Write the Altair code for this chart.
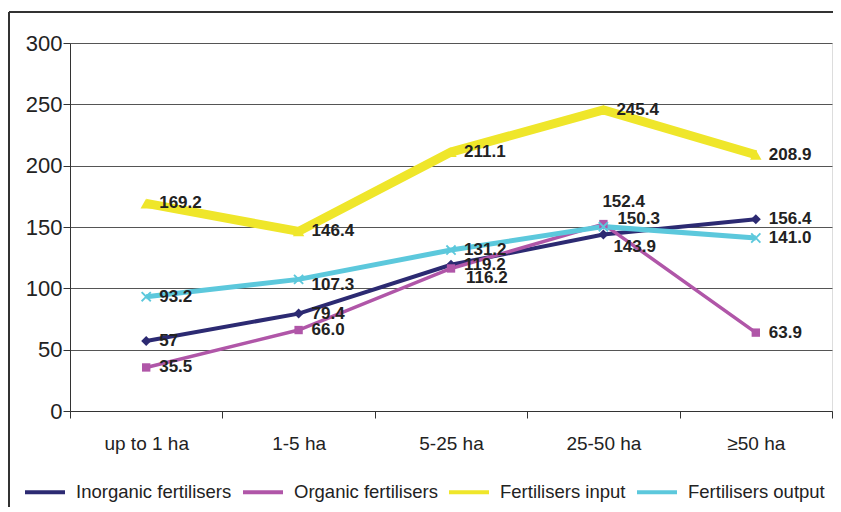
import altair as alt
import pandas as pd

# ---- data ----
categories = ["up to 1 ha", "1-5 ha", "5-25 ha", "25-50 ha", "≥50 ha"]
series_names = ["Inorganic fertilisers", "Organic fertilisers",
                "Fertilisers input", "Fertilisers output"]
inorganic = [57, 79.4, 119.2, 143.9, 156.4]
organic = [35.5, 66.0, 116.2, 152.4, 63.9]
fert_input = [169.2, 146.4, 211.1, 245.4, 208.9]
fert_output = [93.2, 107.3, 131.2, 150.3, 141.0]
y_ticks = [0, 50, 100, 150, 200, 250, 300]

# ---- style ----
colors = ["#2c2a72", "#b056a8", "#efe62a", "#5cc8dc"]
line_widths = [4, 3.5, 9, 5]
X_PATH = ("M-1,-0.75L-0.75,-1L0,-0.25L0.75,-1L1,-0.75L0.25,0L1,0.75L0.75,1"
          "L0,0.25L-0.75,1L-1,0.75L-0.25,0Z")
shapes = ["diamond", "square", "triangle-up", X_PATH]
marker_sizes = [100, 70, 130, 110]
# label placement groups: (dx, dy)
pos_offsets = {"r": (13, 0), "rb": (15, 10), "a": (-1, -22),
               "ru": (14, -8), "b": (10, 13), "rd": (13, 6)}
special_pos = {("Organic fertilisers", "5-25 ha"): "rb",
               ("Organic fertilisers", "25-50 ha"): "a",
               ("Fertilisers output", "25-50 ha"): "ru",
               ("Inorganic fertilisers", "25-50 ha"): "b",
               ("Fertilisers output", "1-5 ha"): "rd"}

FONT = "Liberation Sans"

rows = []
for name, vals in zip(series_names, [inorganic, organic, fert_input, fert_output]):
    for ci, (cat, v) in enumerate(zip(categories, vals)):
        lab = str(v) if isinstance(v, int) else f"{v:.1f}"
        rows.append({"series": name, "category": cat, "ci": ci, "value": v,
                     "label": lab, "pos": special_pos.get((name, cat), "r")})
df = pd.DataFrame(rows)

x_enc = alt.X("category:N", sort=categories, title=None,
              scale=alt.Scale(paddingInner=0, paddingOuter=0),
              axis=alt.Axis(labelAngle=0, labelFontSize=19, labelFont=FONT,
                            labelColor="#222", labelPadding=16, tickSize=7,
                            tickBand="extent", tickColor="#333",
                            domainColor="#333", grid=False, labelBaseline="top"))
y_enc = alt.Y("value:Q", title=None,
              scale=alt.Scale(domain=[0, 300], nice=False),
              axis=alt.Axis(values=y_ticks, labelFontSize=22, labelFont=FONT,
                            labelColor="#222", labelPadding=1, tickSize=7,
                            tickColor="#333", domainColor="#333",
                            gridColor="#555", gridWidth=1, gridOpacity=1))
x_plain = alt.X("category:N", sort=categories)

base = alt.Chart(df)

color_enc = alt.Color("series:N", sort=series_names,
                      scale=alt.Scale(domain=series_names, range=colors),
                      legend=alt.Legend(title=None, orient="none", legendX=-47,
                                        legendY=427, direction="horizontal",
                                        columns=4, symbolType="stroke",
                                        symbolSize=1600, symbolStrokeWidth=4,
                                        labelFontSize=18.5, labelFont=FONT,
                                        labelColor="#222", labelOffset=9,
                                        columnPadding=3, labelLimit=300,
                                        padding=0))

line_layers = []
point_layers = []
for name, w, shp, sz, col in zip(series_names, line_widths, shapes, marker_sizes, colors):
    sub = base.transform_filter(alt.datum.series == name)
    line_layers.append(
        sub.mark_line(strokeWidth=w).encode(
            x=x_enc, y=y_enc, color=color_enc, order=alt.Order("ci:Q"))
    )
    point_layers.append(
        sub.mark_point(filled=True, opacity=1, shape=shp, size=sz, color=col).encode(
            x=x_plain, y="value:Q")
    )

text_layers = []
for p, (dx, dy) in pos_offsets.items():
    text_layers.append(
        base.transform_filter(alt.datum.pos == p).mark_text(
            align="left", baseline="middle", dx=dx, dy=dy, fontSize=17,
            fontWeight="bold", font=FONT, color="#222"
        ).encode(x=x_plain, y="value:Q", text="label:N")
    )

border_top = alt.Chart(df).mark_rule(color="#333", strokeWidth=1.5).encode(
    x=alt.value(-61), x2=alt.value(775), y=alt.value(-31))
border_left = alt.Chart(df).mark_rule(color="#333", strokeWidth=1.5).encode(
    x=alt.value(-61), y=alt.value(-31), y2=alt.value(480))

chart = alt.layer(border_top, border_left, *line_layers, *point_layers,
                  *text_layers).properties(
    width=762, height=368,
    autosize="none",
    padding={"left": 62, "top": 35, "right": 1, "bottom": 96},
).configure_view(stroke="#888", strokeWidth=1.5).configure(background="white")

chart.save("out.html", embed_options={"renderer": "svg", "actions": False})
